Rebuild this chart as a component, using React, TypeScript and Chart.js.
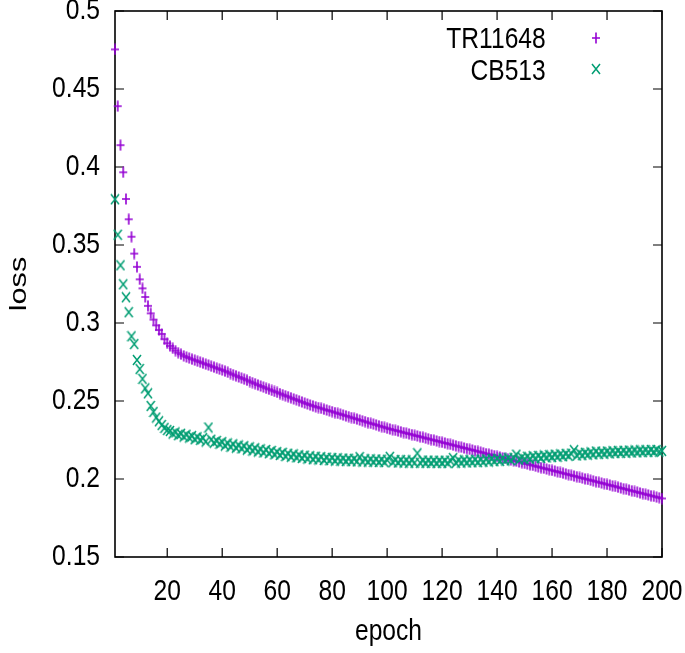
import React, { useEffect, useRef } from "react";
import { Chart, registerables } from "chart.js";

Chart.register(...registerables);

// ---- data ----
const seriesNames = ["TR11648", "CB513"];
const seriesColors = ["#9400d3", "#009e73"];
const xTitle = "epoch";
const yTitle = "loss";

const trLoss = [
  0.4754, 0.4390, 0.4140, 0.3966, 0.3795, 0.3665, 0.3553, 0.3445, 0.3360, 0.3280,
  0.3222, 0.3167, 0.3110, 0.3062, 0.3022, 0.2985, 0.2955, 0.2930, 0.2896, 0.2870,
  0.2853, 0.2838, 0.2823, 0.2810, 0.2800, 0.2790, 0.2782, 0.2775, 0.2768, 0.2762,
  0.2755, 0.2749, 0.2742, 0.2736, 0.2730, 0.2723, 0.2717, 0.2710, 0.2704, 0.2698,
  0.2691, 0.2684, 0.2676, 0.2669, 0.2662, 0.2654, 0.2647, 0.2640, 0.2633, 0.2625,
  0.2618, 0.2611, 0.2603, 0.2596, 0.2589, 0.2581, 0.2575, 0.2568, 0.2561, 0.2555,
  0.2548, 0.2541, 0.2534, 0.2528, 0.2521, 0.2514, 0.2508, 0.2501, 0.2494, 0.2487,
  0.2481, 0.2474, 0.2469, 0.2463, 0.2458, 0.2453, 0.2447, 0.2442, 0.2437, 0.2432,
  0.2426, 0.2421, 0.2416, 0.2410, 0.2405, 0.2400, 0.2394, 0.2389, 0.2384, 0.2378,
  0.2373, 0.2368, 0.2362, 0.2357, 0.2352, 0.2347, 0.2341, 0.2336, 0.2331, 0.2325,
  0.2321, 0.2316, 0.2312, 0.2307, 0.2303, 0.2298, 0.2294, 0.2289, 0.2285, 0.2280,
  0.2276, 0.2271, 0.2267, 0.2262, 0.2258, 0.2253, 0.2249, 0.2244, 0.2240, 0.2235,
  0.2231, 0.2226, 0.2222, 0.2217, 0.2213, 0.2208, 0.2204, 0.2199, 0.2195, 0.2190,
  0.2186, 0.2181, 0.2177, 0.2172, 0.2168, 0.2163, 0.2159, 0.2154, 0.2150, 0.2145,
  0.2141, 0.2136, 0.2132, 0.2127, 0.2123, 0.2118, 0.2114, 0.2109, 0.2105, 0.2100,
  0.2096, 0.2091, 0.2087, 0.2082, 0.2078, 0.2073, 0.2069, 0.2064, 0.2060, 0.2055,
  0.2051, 0.2046, 0.2042, 0.2037, 0.2033, 0.2028, 0.2024, 0.2019, 0.2015, 0.2010,
  0.2006, 0.2001, 0.1997, 0.1992, 0.1988, 0.1983, 0.1979, 0.1974, 0.1970, 0.1965,
  0.1961, 0.1956, 0.1952, 0.1947, 0.1943, 0.1938, 0.1934, 0.1929, 0.1925, 0.1920,
  0.1916, 0.1911, 0.1907, 0.1902, 0.1898, 0.1893, 0.1889, 0.1884, 0.1880, 0.1875,
];

const cbLoss = [
  0.3793, 0.3566, 0.3370, 0.3248, 0.3165, 0.3069, 0.2915, 0.2865, 0.2763, 0.2705,
  0.2642, 0.2581, 0.2549, 0.2468, 0.2430, 0.2394, 0.2370, 0.2346, 0.2328, 0.2314,
  0.2308, 0.2291, 0.2299, 0.2281, 0.2290, 0.2272, 0.2284, 0.2266, 0.2275, 0.2255,
  0.2268, 0.2251, 0.2262, 0.2240, 0.2330, 0.2252, 0.2233, 0.2244, 0.2226, 0.2236,
  0.2214, 0.2228, 0.2207, 0.2222, 0.2201, 0.2215, 0.2196, 0.2210, 0.2188, 0.2203,
  0.2182, 0.2197, 0.2176, 0.2190, 0.2170, 0.2186, 0.2165, 0.2180, 0.2158, 0.2172,
  0.2154, 0.2168, 0.2147, 0.2162, 0.2143, 0.2158, 0.2139, 0.2152, 0.2135, 0.2150,
  0.2131, 0.2146, 0.2127, 0.2143, 0.2125, 0.2140, 0.2122, 0.2137, 0.2120, 0.2135,
  0.2118, 0.2133, 0.2117, 0.2131, 0.2115, 0.2130, 0.2114, 0.2129, 0.2113, 0.2140,
  0.2112, 0.2127, 0.2111, 0.2126, 0.2110, 0.2125, 0.2109, 0.2124, 0.2108, 0.2123,
  0.2142, 0.2107, 0.2122, 0.2106, 0.2121, 0.2105, 0.2120, 0.2104, 0.2119, 0.2104,
  0.2165, 0.2104, 0.2118, 0.2103, 0.2118, 0.2103, 0.2117, 0.2102, 0.2117, 0.2103,
  0.2117, 0.2102, 0.2118, 0.2134, 0.2104, 0.2119, 0.2105, 0.2120, 0.2106, 0.2121,
  0.2107, 0.2123, 0.2108, 0.2124, 0.2110, 0.2126, 0.2112, 0.2128, 0.2114, 0.2130,
  0.2116, 0.2132, 0.2118, 0.2134, 0.2120, 0.2136, 0.2156, 0.2124, 0.2139, 0.2127,
  0.2143, 0.2130, 0.2146, 0.2133, 0.2148, 0.2135, 0.2151, 0.2138, 0.2153, 0.2141,
  0.2156, 0.2143, 0.2158, 0.2146, 0.2161, 0.2148, 0.2163, 0.2185, 0.2151, 0.2166,
  0.2153, 0.2168, 0.2156, 0.2171, 0.2158, 0.2176, 0.2160, 0.2174, 0.2162, 0.2176,
  0.2164, 0.2178, 0.2166, 0.2180, 0.2167, 0.2181, 0.2168, 0.2182, 0.2170, 0.2183,
  0.2171, 0.2184, 0.2172, 0.2185, 0.2173, 0.2186, 0.2174, 0.2186, 0.2175, 0.2180,
];

const xTicks = [20, 40, 60, 80, 100, 120, 140, 160, 180, 200];
const yTicks = [0.15, 0.2, 0.25, 0.3, 0.35, 0.4, 0.45, 0.5];
const yTickLabels = ["0.15", "0.2", "0.25", "0.3", "0.35", "0.4", "0.45", "0.5"];

const FONT = '"Liberation Sans", Arial, sans-serif';
// the reference lettering is condensed horizontally (tall, narrow Helvetica)
const TEXT_SQUEEZE = 0.82;

// gnuplot point glyphs: "+" and "x", slightly taller than wide as in the reference
function makeMarker(kind: "plus" | "times", color: string): HTMLCanvasElement {
  const w = 10;
  const h = 12;
  const c = document.createElement("canvas");
  c.width = w;
  c.height = h;
  const g = c.getContext("2d")!;
  g.strokeStyle = color;
  g.lineCap = "butt";
  g.beginPath();
  if (kind === "plus") {
    g.lineWidth = 1.6;
    g.moveTo(1, h / 2);
    g.lineTo(w - 1, h / 2);
    g.moveTo(w / 2, 0.5);
    g.lineTo(w / 2, h - 0.5);
  } else {
    g.lineWidth = 1.5;
    g.moveTo(1, 1);
    g.lineTo(w - 1, h - 1);
    g.moveTo(w - 1, 1);
    g.lineTo(1, h - 1);
  }
  g.stroke();
  return c;
}

// inward tick marks on all four sides + border frame (gnuplot style)
const frameTicks = {
  id: "frameTicks",
  beforeDatasetsDraw(chart: any) {
    const { ctx, chartArea: a, scales } = chart;
    const xs = scales.x;
    const ys = scales.y;
    const len = 9;
    ctx.save();
    ctx.strokeStyle = "#000";
    ctx.lineWidth = 1.2;
    ctx.beginPath();
    xs.ticks.forEach((t: any) => {
      const px = xs.getPixelForValue(t.value);
      ctx.moveTo(px, a.bottom);
      ctx.lineTo(px, a.bottom - len);
      ctx.moveTo(px, a.top);
      ctx.lineTo(px, a.top + len);
    });
    ys.ticks.forEach((t: any) => {
      const py = ys.getPixelForValue(t.value);
      ctx.moveTo(a.left, py);
      ctx.lineTo(a.left + len, py);
      ctx.moveTo(a.right, py);
      ctx.lineTo(a.right - len, py);
    });
    ctx.stroke();
    ctx.lineWidth = 1.6;
    ctx.strokeRect(a.left, a.top, a.right - a.left, a.bottom - a.top);
    ctx.restore();
  },
};

// gnuplot-like key (text right-aligned, sample marker to its right) and rotated y title
const keyAndTitle = {
  id: "keyAndTitle",
  afterDatasetsDraw(chart: any) {
    const { ctx, chartArea: a } = chart;
    chart.data.datasets.forEach((ds: any, i: number) => {
      const base = a.top + 37.3 + i * 31.7;
      ctx.save();
      ctx.font = `30px ${FONT}`;
      ctx.fillStyle = "#000";
      ctx.textAlign = "right";
      ctx.textBaseline = "alphabetic";
      ctx.fillText(ds.label, a.right - 116.3, base);
      const img = ds.pointStyle as HTMLCanvasElement;
      const cx = a.right - 66;
      const cy = base - 10.8;
      ctx.drawImage(img, Math.round(cx - img.width / 2), Math.round(cy - img.height / 2));
      ctx.restore();
    });
    // y axis title (rotated; glyphs stretched along the text direction)
    const plain = (ctx as any).__plainFillText || ctx.fillText;
    ctx.save();
    ctx.translate(26, (a.top + a.bottom) / 2);
    ctx.rotate(-Math.PI / 2);
    ctx.scale(1.25, 1);
    ctx.font = `24.5px ${FONT}`;
    ctx.fillStyle = "#000";
    ctx.textAlign = "center";
    ctx.textBaseline = "alphabetic";
    plain.call(ctx, yTitle, 0, 0);
    ctx.restore();
  },
};

export default function App() {
  const ref = useRef<HTMLCanvasElement | null>(null);

  useEffect(() => {
    const canvas = ref.current;
    if (!canvas) return;
    const ctx = canvas.getContext("2d") as any;
    if (!ctx.__plainFillText) {
      const plain = ctx.fillText;
      ctx.__plainFillText = plain;
      ctx.fillText = function (text: string, x: number, y: number, maxWidth?: number) {
        this.save();
        this.translate(x, y);
        this.scale(TEXT_SQUEEZE, 1);
        if (maxWidth === undefined) plain.call(this, text, 0, 0);
        else plain.call(this, text, 0, 0, maxWidth / TEXT_SQUEEZE);
        this.restore();
      };
    }
    const plusMarker = makeMarker("plus", seriesColors[0]);
    const timesMarker = makeMarker("times", seriesColors[1]);
    const chart = new Chart(canvas, {
      type: "scatter",
      data: {
        datasets: [
          {
            label: seriesNames[0],
            data: trLoss.map((v, i) => ({ x: i + 1, y: v })),
            pointStyle: plusMarker,
            pointRadius: 5,
            borderColor: seriesColors[0],
            backgroundColor: seriesColors[0],
            borderWidth: 1.5,
            showLine: false,
            clip: false,
            order: 1,
          } as any,
          {
            label: seriesNames[1],
            data: cbLoss.map((v, i) => ({ x: i + 1, y: v })),
            pointStyle: timesMarker,
            pointRadius: 5,
            borderColor: seriesColors[1],
            backgroundColor: seriesColors[1],
            borderWidth: 1.5,
            showLine: false,
            clip: false,
            order: 0,
          } as any,
        ],
      },
      options: {
        responsive: false,
        animation: false,
        devicePixelRatio: 1,
        events: [],
        layout: { padding: { top: 11, right: 23, left: 0, bottom: 0 } },
        plugins: {
          legend: { display: false },
          tooltip: { enabled: false },
        },
        scales: {
          x: {
            type: "linear",
            min: 1,
            max: 200,
            afterBuildTicks: (s: any) => {
              s.ticks = xTicks.map((v) => ({ value: v }));
            },
            afterFit: (s: any) => {
              s.height = 96;
              s.paddingLeft = 0;
              s.paddingRight = 0;
            },
            grid: { display: false, drawTicks: false },
            border: { display: false },
            ticks: {
              autoSkip: false,
              maxRotation: 0,
              padding: 17,
              color: "#000",
              font: { size: 30, family: FONT },
            },
            title: {
              display: true,
              text: xTitle,
              color: "#000",
              font: { size: 30, family: FONT },
              padding: { top: 0, bottom: 3 },
            },
          },
          y: {
            type: "linear",
            min: 0.15,
            max: 0.5,
            afterBuildTicks: (s: any) => {
              s.ticks = yTicks.map((v) => ({ value: v }));
            },
            afterFit: (s: any) => {
              s.width = 115;
              s.paddingTop = 0;
              s.paddingBottom = 0;
            },
            grid: { display: false, drawTicks: false },
            border: { display: false },
            ticks: {
              autoSkip: false,
              padding: 15,
              color: "#000",
              font: { size: 30, family: FONT },
              callback: (_v: any, i: number) => yTickLabels[i],
            },
          },
        },
      },
      plugins: [frameTicks, keyAndTitle],
    });
    return () => chart.destroy();
  }, []);

  return (
    <div style={{ position: "absolute", left: 0, top: 0, width: 685, height: 653, background: "#fff" }}>
      <canvas ref={ref} width={685} height={653} style={{ display: "block" }} />
    </div>
  );
}
